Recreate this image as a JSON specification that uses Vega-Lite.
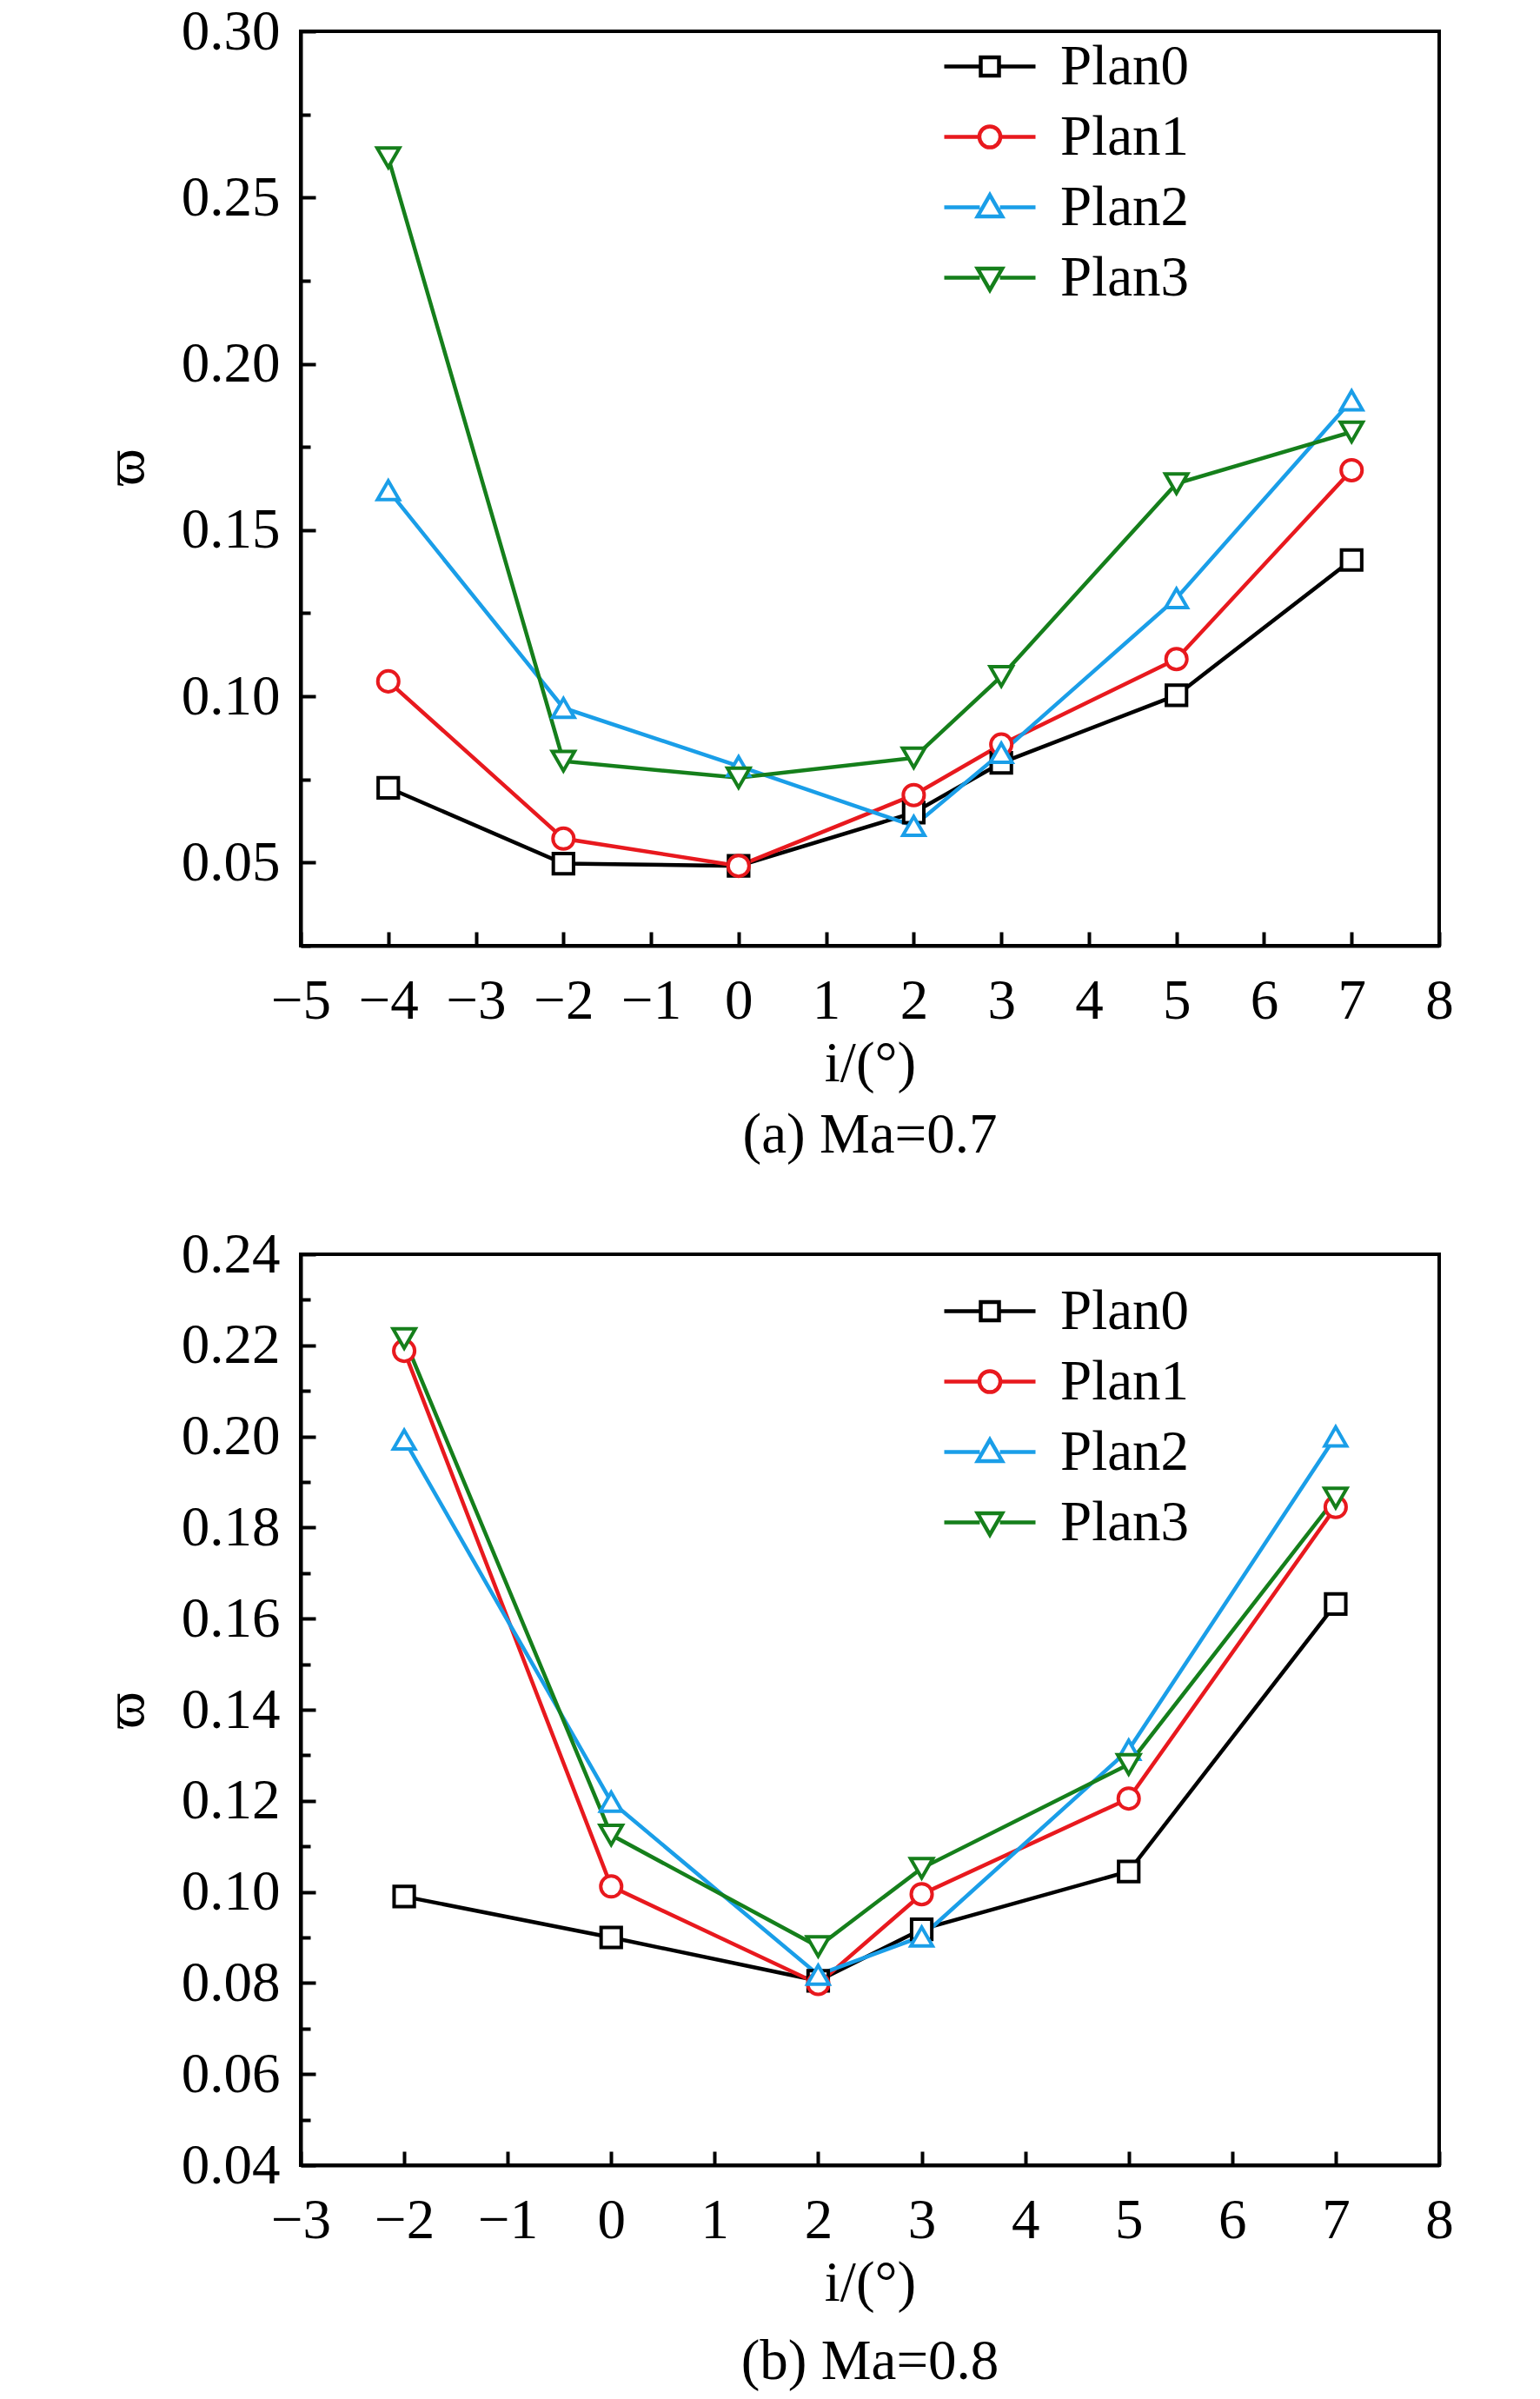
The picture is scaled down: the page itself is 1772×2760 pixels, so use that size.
{
  "$schema": "https://vega.github.io/schema/vega-lite/v6.json",
  "padding": {"left": 110, "top": 2, "right": 5, "bottom": 5},
  "background": "white",
  "datasets": {
    "a": [
      {"plan": "Plan0", "i": -4, "w": 0.0725},
      {"plan": "Plan0", "i": -2, "w": 0.0497},
      {"plan": "Plan0", "i": 0, "w": 0.0490},
      {"plan": "Plan0", "i": 2, "w": 0.0650},
      {"plan": "Plan0", "i": 3, "w": 0.0800},
      {"plan": "Plan0", "i": 5, "w": 0.1003},
      {"plan": "Plan0", "i": 7, "w": 0.1410},
      {"plan": "Plan1", "i": -4, "w": 0.1045},
      {"plan": "Plan1", "i": -2, "w": 0.0572},
      {"plan": "Plan1", "i": 0, "w": 0.0490},
      {"plan": "Plan1", "i": 2, "w": 0.0703},
      {"plan": "Plan1", "i": 3, "w": 0.0855},
      {"plan": "Plan1", "i": 5, "w": 0.1112},
      {"plan": "Plan1", "i": 7, "w": 0.1680},
      {"plan": "Plan2", "i": -4, "w": 0.1620},
      {"plan": "Plan2", "i": -2, "w": 0.0965},
      {"plan": "Plan2", "i": 0, "w": 0.0790},
      {"plan": "Plan2", "i": 2, "w": 0.0610},
      {"plan": "Plan2", "i": 3, "w": 0.0830},
      {"plan": "Plan2", "i": 5, "w": 0.1295},
      {"plan": "Plan2", "i": 7, "w": 0.1890},
      {"plan": "Plan3", "i": -4, "w": 0.2620},
      {"plan": "Plan3", "i": -2, "w": 0.0805},
      {"plan": "Plan3", "i": 0, "w": 0.0755},
      {"plan": "Plan3", "i": 2, "w": 0.0815},
      {"plan": "Plan3", "i": 3, "w": 0.1060},
      {"plan": "Plan3", "i": 5, "w": 0.1640},
      {"plan": "Plan3", "i": 7, "w": 0.1795}
    ],
    "b": [
      {"plan": "Plan0", "i": -2, "w": 0.0990},
      {"plan": "Plan0", "i": 0, "w": 0.0900},
      {"plan": "Plan0", "i": 2, "w": 0.0805},
      {"plan": "Plan0", "i": 3, "w": 0.0918},
      {"plan": "Plan0", "i": 5, "w": 0.1045},
      {"plan": "Plan0", "i": 7, "w": 0.1632},
      {"plan": "Plan1", "i": -2, "w": 0.2188},
      {"plan": "Plan1", "i": 0, "w": 0.1012},
      {"plan": "Plan1", "i": 2, "w": 0.0798},
      {"plan": "Plan1", "i": 3, "w": 0.0995},
      {"plan": "Plan1", "i": 5, "w": 0.1205},
      {"plan": "Plan1", "i": 7, "w": 0.1845},
      {"plan": "Plan2", "i": -2, "w": 0.1993},
      {"plan": "Plan2", "i": 0, "w": 0.1198},
      {"plan": "Plan2", "i": 2, "w": 0.0818},
      {"plan": "Plan2", "i": 3, "w": 0.0902},
      {"plan": "Plan2", "i": 5, "w": 0.1312},
      {"plan": "Plan2", "i": 7, "w": 0.2000},
      {"plan": "Plan3", "i": -2, "w": 0.2215},
      {"plan": "Plan3", "i": 0, "w": 0.1125},
      {"plan": "Plan3", "i": 2, "w": 0.0880},
      {"plan": "Plan3", "i": 3, "w": 0.1052},
      {"plan": "Plan3", "i": 5, "w": 0.1280},
      {"plan": "Plan3", "i": 7, "w": 0.1865}
    ]
  },
  "config": {
    "font": "Liberation Serif",
    "view": {"stroke": "black", "strokeWidth": 4},
    "axis": {
      "labelFont": "Liberation Serif",
      "labelFontSize": 65,
      "labelColor": "black",
      "titleFont": "Liberation Serif",
      "titleFontSize": 65,
      "titleFontWeight": "normal",
      "titleColor": "black",
      "domainColor": "black",
      "domainWidth": 4,
      "tickColor": "black",
      "tickWidth": 4,
      "grid": false,
      "labelOverlap": false,
      "labelFlush": false,
      "labelBound": false
    },
    "title": {"font": "Liberation Serif", "fontSize": 65, "fontWeight": "normal", "color": "black"},
    "legend": {"labelFont": "Liberation Serif", "labelFontSize": 65, "labelColor": "black"}
  },
  "resolve": {"scale": {"stroke": "independent", "shape": "independent", "size": "independent"}, "legend": {"stroke": "independent", "shape": "independent"}},
  "spacing": 68,
  "vconcat": [
    {
      "width": 1310,
      "height": 1052,
      "data": {"name": "a"},
      "title": {"text": "(a) Ma=0.7", "orient": "bottom", "offset": 19},
      "encoding": {
        "x": {
          "field": "i", "type": "quantitative",
          "scale": {"domain": [-5, 8], "nice": false, "zero": false},
          "axis": {
            "title": "i/(°)",
            "titlePadding": 8,
            "format": "d",
            "values": [-5, -4.5, -4, -3.5, -3, -2.5, -2, -1.5, -1, -0.5, 0, 0.5, 1, 1.5, 2, 2.5, 3, 3.5, 4, 4.5, 5, 5.5, 6, 6.5, 7, 7.5, 8],
            "tickSize": {"condition": {"test": "datum.value % 1 === 0", "value": -16}, "value": -11},
            "labelPadding": 48,
            "labelExpr": "datum.value % 1 === 0 ? datum.label : ''"
          }
        },
        "y": {
          "field": "w", "type": "quantitative",
          "scale": {"domain": [0.025, 0.30], "nice": false, "zero": false},
          "axis": {
            "title": "ϖ",
            "titlePadding": 30,
            "titleY": 501,
            "values": [0.025, 0.05, 0.075, 0.1, 0.125, 0.15, 0.175, 0.2, 0.225, 0.25, 0.275, 0.3],
            "format": ".2f",
            "tickSize": {"condition": {"test": "abs(round(datum.value*1000)) % 50 === 0", "value": -17}, "value": -11},
            "labelPadding": 41,
            "labelExpr": "abs(round(datum.value*1000)) % 50 === 0 ? datum.label : ''"
          }
        },
        "stroke": {
          "field": "plan", "type": "nominal",
          "scale": {"domain": ["Plan0", "Plan1", "Plan2", "Plan3"], "range": ["#000000", "#e8191e", "#1a9ee8", "#157f1b"]},
          "legend": {
            "title": null,
            "orient": "none",
            "legendX": 738,
            "legendY": 0,
            "padding": 0,
            "symbolSize": 11025,
            "symbolStrokeWidth": 4,
            "labelOffset": 26,
            "rowPadding": 0,
            "clipHeight": 81,
            "encode": {
              "symbols": {
                "update": {
                  "fill": {"value": "white"},
                  "size": {"value": 11025},
                  "strokeWidth": {"value": 4.5},
                  "shape": {"signal": "datum.value === 'Plan0' ? 'M-1,0H-0.2M0.2,0H1M-0.2,-0.2H0.2V0.2H-0.2Z' : datum.value === 'Plan1' ? 'M-1,0H-0.23M0.23,0H1M0.23,0A0.23,0.23 0 1,1 -0.23,0A0.23,0.23 0 1,1 0.23,0Z' : datum.value === 'Plan2' ? 'M-1,0H-0.22M0.22,0H1M0,-0.27L0.27,0.2L-0.27,0.2Z' : 'M-1,0H-0.22M0.22,0H1M0,0.27L0.27,-0.2L-0.27,-0.2Z'"}
                }
              }
            }
          }
        }
      },
      "layer": [
        {"mark": {"type": "line", "strokeWidth": 4.5}},
        {
          "mark": {"type": "point", "filled": true, "fill": "white", "strokeWidth": 4, "opacity": 1},
          "encoding": {
            "shape": {
              "field": "plan", "type": "nominal",
              "scale": {"range": ["square", "circle", "triangle-up", "triangle-down"]},
              "legend": null
            },
            "size": {
              "field": "plan", "type": "ordinal",
              "scale": {"range": [540, 660, 920, 920]},
              "legend": null
            }
          }
        }
      ]
    },
    {
      "width": 1310,
      "height": 1048,
      "data": {"name": "b"},
      "title": {"text": "(b) Ma=0.8", "orient": "bottom", "offset": 27},
      "encoding": {
        "x": {
          "field": "i", "type": "quantitative",
          "scale": {"domain": [-3, 8], "nice": false, "zero": false},
          "axis": {
            "title": "i/(°)",
            "titlePadding": 8,
            "format": "d",
            "values": [-3, -2.5, -2, -1.5, -1, -0.5, 0, 0.5, 1, 1.5, 2, 2.5, 3, 3.5, 4, 4.5, 5, 5.5, 6, 6.5, 7, 7.5, 8],
            "tickSize": {"condition": {"test": "datum.value % 1 === 0", "value": -16}, "value": -11},
            "labelPadding": 48,
            "labelExpr": "datum.value % 1 === 0 ? datum.label : ''"
          }
        },
        "y": {
          "field": "w", "type": "quantitative",
          "scale": {"domain": [0.04, 0.24], "nice": false, "zero": false},
          "axis": {
            "title": "ϖ",
            "titlePadding": 30,
            "values": [0.04, 0.05, 0.06, 0.07, 0.08, 0.09, 0.1, 0.11, 0.12, 0.13, 0.14, 0.15, 0.16, 0.17, 0.18, 0.19, 0.2, 0.21, 0.22, 0.23, 0.24],
            "format": ".2f",
            "tickSize": {"condition": {"test": "round(datum.value*100) % 2 === 0", "value": -17}, "value": -11},
            "labelPadding": 41,
            "labelExpr": "round(datum.value*100) % 2 === 0 ? datum.label : ''"
          }
        },
        "stroke": {
          "field": "plan", "type": "nominal",
          "scale": {"domain": ["Plan0", "Plan1", "Plan2", "Plan3"], "range": ["#000000", "#e8191e", "#1a9ee8", "#157f1b"]},
          "legend": {
            "title": null,
            "orient": "none",
            "legendX": 738,
            "legendY": 25,
            "padding": 0,
            "symbolSize": 11025,
            "symbolStrokeWidth": 4,
            "labelOffset": 26,
            "rowPadding": 0,
            "clipHeight": 81,
            "encode": {
              "symbols": {
                "update": {
                  "fill": {"value": "white"},
                  "size": {"value": 11025},
                  "strokeWidth": {"value": 4.5},
                  "shape": {"signal": "datum.value === 'Plan0' ? 'M-1,0H-0.2M0.2,0H1M-0.2,-0.2H0.2V0.2H-0.2Z' : datum.value === 'Plan1' ? 'M-1,0H-0.23M0.23,0H1M0.23,0A0.23,0.23 0 1,1 -0.23,0A0.23,0.23 0 1,1 0.23,0Z' : datum.value === 'Plan2' ? 'M-1,0H-0.22M0.22,0H1M0,-0.27L0.27,0.2L-0.27,0.2Z' : 'M-1,0H-0.22M0.22,0H1M0,0.27L0.27,-0.2L-0.27,-0.2Z'"}
                }
              }
            }
          }
        }
      },
      "layer": [
        {"mark": {"type": "line", "strokeWidth": 4.5}},
        {
          "mark": {"type": "point", "filled": true, "fill": "white", "strokeWidth": 4, "opacity": 1},
          "encoding": {
            "shape": {
              "field": "plan", "type": "nominal",
              "scale": {"range": ["square", "circle", "triangle-up", "triangle-down"]},
              "legend": null
            },
            "size": {
              "field": "plan", "type": "ordinal",
              "scale": {"range": [540, 660, 920, 920]},
              "legend": null
            }
          }
        }
      ]
    }
  ]
}
